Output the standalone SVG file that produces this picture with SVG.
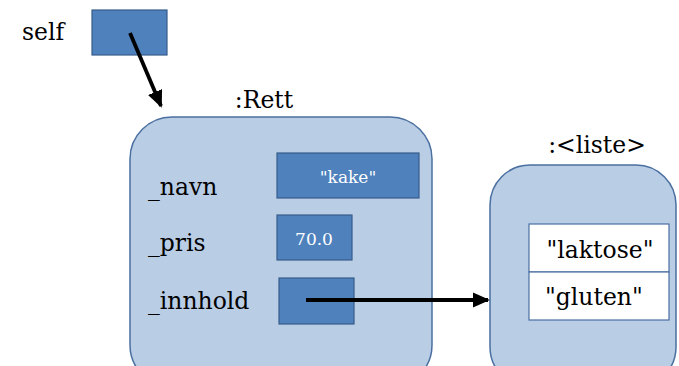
<svg xmlns="http://www.w3.org/2000/svg" width="679" height="366" viewBox="0 0 679 366">
<defs>
<style>
.t{font-family:"DejaVu Serif","Liberation Serif",serif;fill:#000;font-size:23.5px}
.w{font-family:"DejaVu Serif","Liberation Serif",serif;fill:#fff;font-size:17px;text-anchor:middle}
.obj{fill:#B9CDE5;stroke:#4A6FA0;stroke-width:1.5}
.ref{fill:#4F81BD;stroke:#385D8A;stroke-width:1.2}
.cell{fill:#fff;stroke:#4A6FA0;stroke-width:1.2}
.c{stroke:#000;stroke-width:3.8;fill:none}
</style>
<marker id="ah" markerWidth="4.5" markerHeight="4" refX="4" refY="2" orient="auto" markerUnits="strokeWidth"><path d="M0,0 L4.5,2 L0,4 z" fill="#000"/></marker>
</defs>
<g id="self">
<text class="t" x="22" y="40">self</text>
<rect class="ref" x="92" y="10" width="75" height="45"/>
</g>
<g id="rett">
<text class="t" x="264" y="108" text-anchor="middle">:Rett</text>
<rect class="obj" x="130" y="117" width="302" height="270" rx="42"/>
<text class="t" x="148" y="195">_navn</text>
<text class="t" x="148" y="251">_pris</text>
<text class="t" x="148" y="309">_innhold</text>
<rect class="ref" x="277" y="153" width="142" height="45"/>
<text class="w" x="348" y="183">"kake"</text>
<rect class="ref" x="277" y="215" width="75" height="45"/>
<text class="w" x="314" y="245">70.0</text>
<rect class="ref" x="279" y="278" width="75" height="46"/>
</g>
<g id="liste">
<text class="t" x="597" y="153" text-anchor="middle">:&lt;liste&gt;</text>
<rect class="obj" x="490" y="165" width="186" height="222" rx="40"/>
<rect class="cell" x="529" y="224" width="140" height="48"/>
<rect class="cell" x="529" y="272" width="140" height="48"/>
<text class="t" x="600" y="258" text-anchor="middle">"laktose"</text>
<text class="t" x="545" y="305">"gluten"</text>
</g>
<g id="connectors">
<line class="c" x1="130" y1="33" x2="161" y2="106" marker-end="url(#ah)"/>
<line class="c" x1="306" y1="300" x2="488" y2="300" marker-end="url(#ah)"/>
</g>
</svg>
